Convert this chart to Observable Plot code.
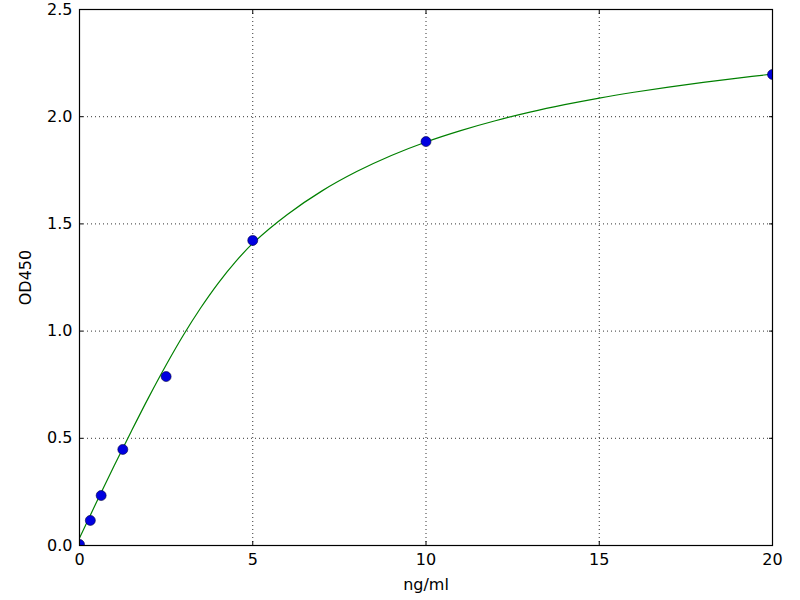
<!DOCTYPE html>
<html>
<head>
<meta charset="utf-8">
<script src="https://cdn.jsdelivr.net/npm/d3@7"></script>
<script src="https://cdn.jsdelivr.net/npm/@observablehq/plot@0.6"></script>
<style>
  html, body { margin: 0; padding: 0; background: #fff; }
</style>
</head>
<body>
<div id="chart"></div>
<script>
// Standard points (concentration ng/ml, OD450)
const conc = [0, 0.3125, 0.625, 1.25, 2.5, 5, 10, 20];
const od = [0.005, 0.117, 0.233, 0.448, 0.788, 1.423, 1.884, 2.197];

// Fitted curve
const curveX = [0, 0.5, 1, 1.5, 2, 2.5, 3, 3.5, 4, 4.5, 5, 6, 7, 8, 9, 10, 11, 12, 13, 14, 15, 16, 17, 18, 19, 20];
const curveY = [0.035, 0.205, 0.372, 0.534, 0.692, 0.842, 0.982, 1.109, 1.223, 1.323, 1.409, 1.544, 1.654, 1.744, 1.819, 1.882, 1.935, 1.981, 2.021, 2.056, 2.087, 2.114, 2.138, 2.16, 2.18, 2.199];

const xTicks = [0, 5, 10, 15, 20];
const yTicks = [0.0, 0.5, 1.0, 1.5, 2.0, 2.5];

const points = conc.map((x, i) => ({x, y: od[i]}));
const curve = curveX.map((x, i) => ({x, y: curveY[i]}));

const chart = Plot.plot({
  width: 800,
  height: 600,
  marginTop: 9,
  marginBottom: 55,
  marginLeft: 79,
  marginRight: 28,
  style: {fontFamily: "DejaVu Sans", fontSize: "16px", color: "black", background: "white"},
  x: {domain: [0, 20]},
  y: {domain: [0, 2.5]},
  marks: [
    Plot.gridX(xTicks.slice(1, -1), {stroke: "black", strokeOpacity: 0.8, strokeDasharray: "1,3"}),
    Plot.gridY(yTicks.slice(1, -1), {stroke: "black", strokeOpacity: 0.8, strokeDasharray: "1,3"}),
    Plot.axisX(xTicks, {anchor: "bottom", tickSize: -4, tickPadding: 12, tickFormat: d => String(d), label: "ng/ml", labelAnchor: "center", labelArrow: "none", labelOffset: 44, fontSize: 16}),
    Plot.axisX(xTicks, {anchor: "top", tickSize: -4, tickFormat: null, label: null, text: null}),
    Plot.axisY(yTicks, {anchor: "left", tickSize: -4, tickPadding: 11, tickFormat: d => d.toFixed(1), label: "OD450", labelAnchor: "center", labelArrow: "none", labelOffset: 60, fontSize: 16}),
    Plot.axisY(yTicks, {anchor: "right", tickSize: -4, tickFormat: null, label: null, text: null}),
    Plot.line(curve, {x: "x", y: "y", stroke: "#008000", strokeWidth: 1.2, curve: "catmull-rom", clip: true}),
    Plot.dot(points, {x: "x", y: "y", r: 5, fill: "#0000e0", stroke: "#000040", strokeWidth: 0.6, clip: true}),
    Plot.frame({stroke: "black", strokeWidth: 1.2})
  ]
});
document.getElementById("chart").appendChild(chart);
</script>
</body>
</html>
